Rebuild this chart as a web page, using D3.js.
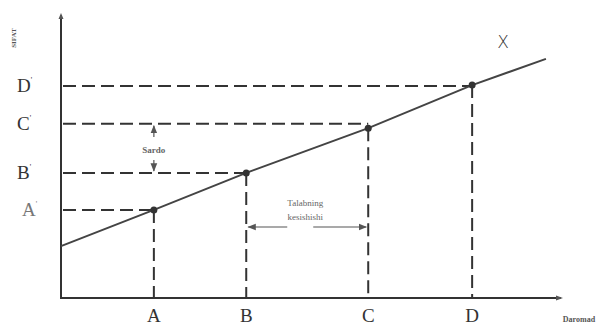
<!DOCTYPE html>
<html>
<head>
<meta charset="utf-8">
<title>Sifat va daromad</title>
<style>
body { margin: 0; background: #fff; }
text { font-family: "Liberation Serif", "DejaVu Serif", serif; fill: #333; }
.guide { fill: none; stroke: #333; stroke-width: 2px; stroke-dasharray: 13 6; }
.axis { stroke: #333; stroke-width: 2px; }
.curve { fill: none; stroke: #444; stroke-width: 2px; }
.note { font-size: 9px; fill: #666; }
.arrow { stroke: #555; stroke-width: 1.2px; fill: none; }
</style>
</head>
<body>
<script src="https://cdnjs.cloudflare.com/ajax/libs/d3/7.8.5/d3.min.js"></script>
<script>
// points on the curve X (daromad -> sifat)
var pointNames = ["A", "B", "C", "D"];
var pointIncome = [18.5, 36.9, 61.2, 81.9];
var pointQuality = [30.9, 43.9, 59.6, 74.7];
// level where each horizontal guide is drawn (C' sits a little above its point)
var guideLevel = [30.9, 43.9, 61.1, 74.4];
// the line itself, from the y axis to its right end
var lineIncome = [0, 18.5, 36.9, 61.2, 81.9, 96.6];
var lineQuality = [18.2, 30.9, 43.9, 59.6, 74.7, 83.9];

var width = 604, height = 325;

var svg = d3.select("body").append("svg")
  .attr("width", width)
  .attr("height", height);

var x = d3.scaleLinear().domain([0, 100]).range([61, 563]);
var y = d3.scaleLinear().domain([0, 100]).range([298, 13]);

var defs = svg.append("defs");
defs.append("marker")
  .attr("id", "head")
  .attr("viewBox", "0 0 10 10")
  .attr("refX", 9).attr("refY", 5)
  .attr("markerWidth", 7).attr("markerHeight", 7)
  .attr("orient", "auto-start-reverse")
  .append("path")
  .attr("d", "M0,1 L10,5 L0,9 Z")
  .attr("fill", "#555");

// axes
svg.append("line").attr("class", "axis")
  .attr("x1", x(0)).attr("y1", y(0))
  .attr("x2", x(0)).attr("y2", y(100) + 2);
svg.append("line").attr("class", "axis")
  .attr("x1", x(0) - 1).attr("y1", y(0))
  .attr("x2", x(100) - 2).attr("y2", y(0));
// small arrow tips on the axes
svg.append("path").attr("fill", "#555")
  .attr("d", "M" + (x(0) - 2.5) + "," + (y(100) + 6) + " L" + x(0) + "," + y(100) + " L" + (x(0) + 2.5) + "," + (y(100) + 6) + "Z");
svg.append("path").attr("fill", "#555")
  .attr("d", "M" + (x(100) - 7) + "," + (y(0) - 2.5) + " L" + x(100) + "," + y(0) + " L" + (x(100) - 7) + "," + (y(0) + 2.5) + "Z");

var pts = pointNames.map(function(n, i) {
  return {name: n, inc: pointIncome[i], q: pointQuality[i], level: guideLevel[i]};
});

// dashed guides
svg.append("g").selectAll("line.h")
  .data(pts).enter().append("line")
  .attr("class", "guide")
  .attr("x1", x(0) + 2).attr("x2", function(d) { return x(d.inc); })
  .attr("y1", function(d) { return y(d.level); })
  .attr("y2", function(d) { return y(d.level); });

svg.append("g").selectAll("line.v")
  .data(pts).enter().append("line")
  .attr("class", "guide")
  .attr("x1", function(d) { return x(d.inc); })
  .attr("x2", function(d) { return x(d.inc); })
  .attr("y1", function(d) { return y(d.q); })
  .attr("y2", y(0));

// the curve X
var line = d3.line()
  .x(function(d) { return x(d[0]); })
  .y(function(d) { return y(d[1]); });
svg.append("path")
  .attr("class", "curve")
  .attr("d", line(d3.zip(lineIncome, lineQuality)));

svg.append("g").selectAll("circle")
  .data(pts).enter().append("circle")
  .attr("cx", function(d) { return x(d.inc); })
  .attr("cy", function(d) { return y(d.q); })
  .attr("r", 3.5)
  .attr("fill", "#333");

// letters on the x axis
svg.append("g").selectAll("text")
  .data(pts).enter().append("text")
  .attr("x", function(d) { return x(d.inc); })
  .attr("y", 322)
  .attr("text-anchor", "middle")
  .style("font-size", "19px")
  .text(function(d) { return d.name; });

// primed letters on the y axis
var yl = svg.append("g").selectAll("text")
  .data(pts).enter().append("text")
  .attr("x", function(d) { return d.name === "A" ? 22 : 17; })
  .attr("y", function(d) { return y(d.level) + 6; })
  .style("font-size", "19px")
  .style("fill", function(d) { return d.name === "A" ? "#777" : "#333"; });
yl.append("tspan").text(function(d) { return d.name; });
yl.append("tspan").attr("dy", -9).style("font-size", "8px").text("'");

svg.append("text")
  .attr("transform", "translate(16,38) rotate(-90)")
  .attr("text-anchor", "middle")
  .style("font-size", "7px")
  .style("font-weight", "bold")
  .style("fill", "#555")
  .text("SIFAT");

svg.append("text")
  .attr("x", 579).attr("y", 322)
  .attr("text-anchor", "middle")
  .style("font-size", "8px")
  .style("font-weight", "bold")
  .style("fill", "#555")
  .text("Daromad");

svg.append("text")
  .attr("x", 503).attr("y", 48)
  .attr("text-anchor", "middle")
  .style("font-family", "'DejaVu Sans', sans-serif")
  .style("font-size", "17px")
  .style("font-weight", "300")
  .text("X");

// Sardo: gap between B' and C'
var sx = x(pointIncome[0]);
svg.append("text").attr("class", "note")
  .attr("x", sx).attr("y", 153)
  .attr("text-anchor", "middle")
  .style("font-weight", "bold")
  .text("Sardo");
svg.append("line").attr("class", "arrow")
  .attr("x1", sx).attr("x2", sx)
  .attr("y1", 137).attr("y2", y(guideLevel[2]) + 2)
  .attr("marker-end", "url(#head)");
svg.append("line").attr("class", "arrow")
  .attr("x1", sx).attr("x2", sx)
  .attr("y1", 160).attr("y2", y(guideLevel[1]) - 2)
  .attr("marker-end", "url(#head)");

// Talabning kesishishi: span between B and C
var bx = x(pointIncome[1]), cx = x(pointIncome[2]);
var mid = (bx + cx) / 2;
svg.append("text").attr("class", "note")
  .attr("x", mid - 2).attr("y", 206)
  .attr("text-anchor", "middle")
  .text("Talabning");
svg.append("text").attr("class", "note")
  .attr("x", mid - 2).attr("y", 220)
  .attr("text-anchor", "middle")
  .text("kesishishi");
svg.append("line").attr("class", "arrow")
  .attr("x1", mid - 20).attr("x2", bx + 2)
  .attr("y1", 227).attr("y2", 227)
  .attr("marker-end", "url(#head)");
svg.append("line").attr("class", "arrow")
  .attr("x1", mid + 6).attr("x2", cx - 2)
  .attr("y1", 227).attr("y2", 227)
  .attr("marker-end", "url(#head)");
</script>
</body>
</html>
